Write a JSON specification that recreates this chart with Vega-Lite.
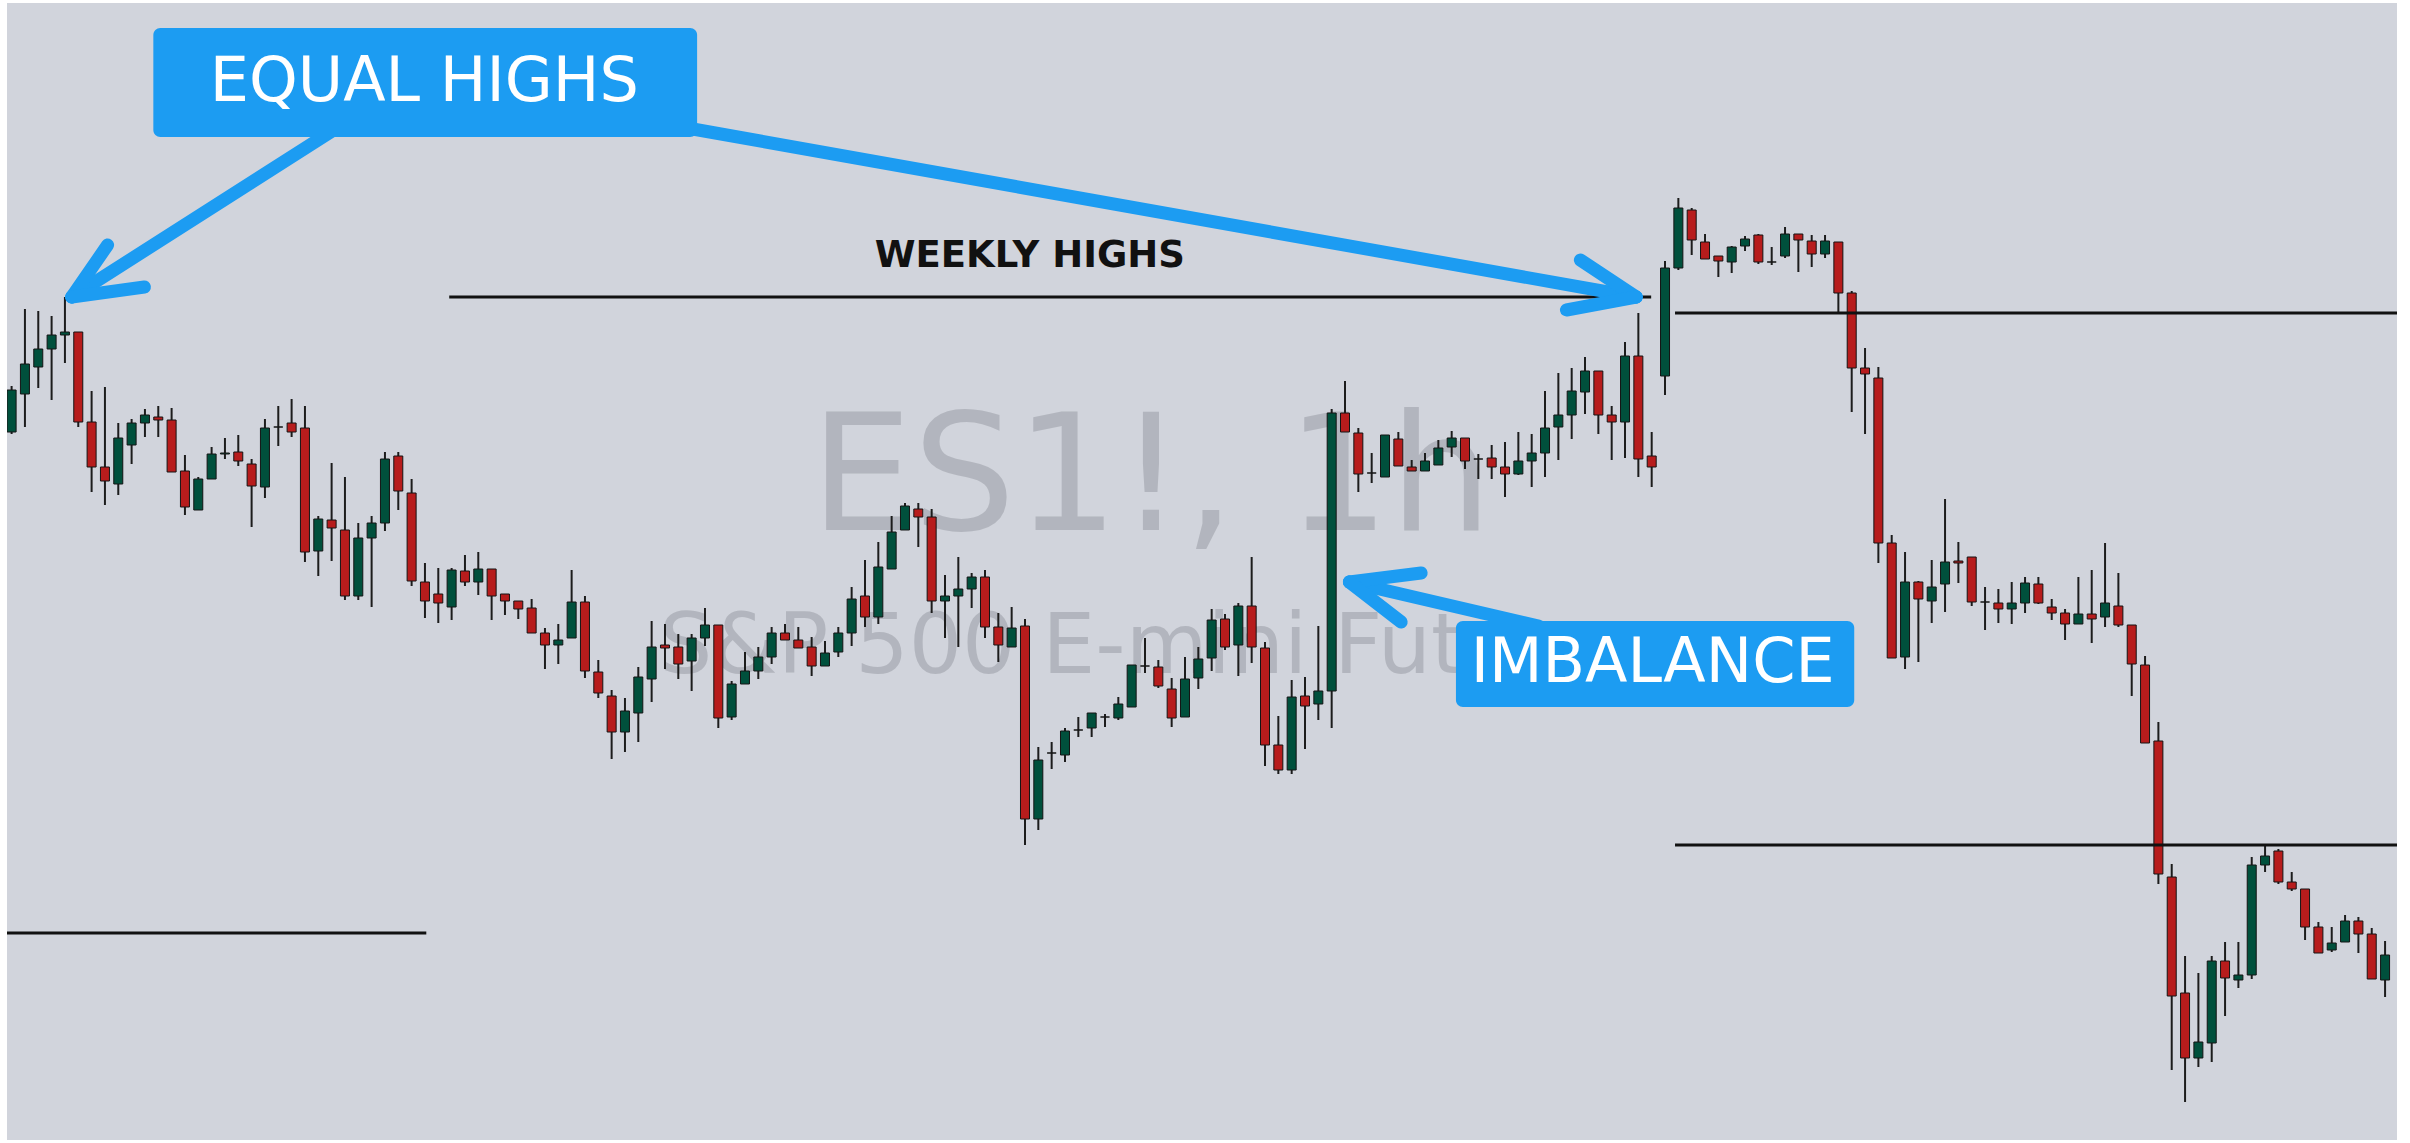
{
  "$schema": "https://vega.github.io/schema/vega-lite/v6.json",
  "width": 2410,
  "height": 1143,
  "autosize": {"type": "fit", "contains": "padding"},
  "padding": {"left": 7, "top": 3, "right": 13, "bottom": 3},
  "background": "white",
  "view": {"stroke": null, "fill": "#d1d4dc"},
  "datasets": {
    "candles": [
      {"i":0,"o":4092,"h":4103.5,"l":4091.5,"c":4102.5},
      {"i":1,"o":4101.5,"h":4122.75,"l":4093.25,"c":4109},
      {"i":2,"o":4108.25,"h":4122.25,"l":4103,"c":4112.75},
      {"i":3,"o":4112.75,"h":4121,"l":4100,"c":4116.25},
      {"i":4,"o":4116.25,"h":4125.75,"l":4109.25,"c":4117},
      {"i":5,"o":4117,"h":4117,"l":4093.25,"c":4094.5},
      {"i":6,"o":4094.5,"h":4102.25,"l":4077,"c":4083.25},
      {"i":7,"o":4083.25,"h":4103.25,"l":4073.75,"c":4079.75},
      {"i":8,"o":4079,"h":4094.25,"l":4076.25,"c":4090.5},
      {"i":9,"o":4088.75,"h":4095.25,"l":4084,"c":4094.25},
      {"i":10,"o":4094.25,"h":4097.75,"l":4090.75,"c":4096.25},
      {"i":11,"o":4095.75,"h":4098.5,"l":4090.75,"c":4095},
      {"i":12,"o":4095,"h":4098,"l":4082,"c":4082},
      {"i":13,"o":4082.25,"h":4086.25,"l":4071.25,"c":4073.25},
      {"i":14,"o":4072.5,"h":4080.75,"l":4072.5,"c":4080.25},
      {"i":15,"o":4080.25,"h":4088.25,"l":4080.25,"c":4086.5},
      {"i":16,"o":4086.5,"h":4090.5,"l":4085.25,"c":4086.75},
      {"i":17,"o":4087,"h":4091.25,"l":4083.5,"c":4084.75},
      {"i":18,"o":4084,"h":4085.25,"l":4068.25,"c":4078.5},
      {"i":19,"o":4078.25,"h":4095.25,"l":4075.5,"c":4093},
      {"i":20,"o":4093.25,"h":4098.5,"l":4088.5,"c":4093.25},
      {"i":21,"o":4094.25,"h":4100.25,"l":4090.75,"c":4092},
      {"i":22,"o":4093,"h":4098.5,"l":4059.5,"c":4062},
      {"i":23,"o":4062.25,"h":4071,"l":4056,"c":4070.25},
      {"i":24,"o":4070,"h":4084.25,"l":4059.75,"c":4068},
      {"i":25,"o":4067.5,"h":4080.75,"l":4050,"c":4051},
      {"i":26,"o":4051,"h":4069.25,"l":4050,"c":4065.5},
      {"i":27,"o":4065.5,"h":4071,"l":4048.25,"c":4069.25},
      {"i":28,"o":4069.25,"h":4087,"l":4067.25,"c":4085.25},
      {"i":29,"o":4086,"h":4087,"l":4072.5,"c":4077.25},
      {"i":30,"o":4076.75,"h":4080.25,"l":4053.5,"c":4054.75},
      {"i":31,"o":4054.5,"h":4059.25,"l":4045.5,"c":4049.75},
      {"i":32,"o":4051.5,"h":4058,"l":4044.25,"c":4049.25},
      {"i":33,"o":4048.25,"h":4058,"l":4045,"c":4057.5},
      {"i":34,"o":4057.25,"h":4061.25,"l":4053.5,"c":4054.5},
      {"i":35,"o":4054.5,"h":4062,"l":4051.25,"c":4057.75},
      {"i":36,"o":4057.75,"h":4057.75,"l":4045,"c":4051},
      {"i":37,"o":4051.5,"h":4051.5,"l":4046.25,"c":4049.75},
      {"i":38,"o":4049.75,"h":4049.75,"l":4045.25,"c":4047.75},
      {"i":39,"o":4048,"h":4050.25,"l":4041.75,"c":4041.75},
      {"i":40,"o":4041.75,"h":4043,"l":4032.75,"c":4038.75},
      {"i":41,"o":4038.75,"h":4044,"l":4034,"c":4040},
      {"i":42,"o":4040.5,"h":4057.5,"l":4040.5,"c":4049.5},
      {"i":43,"o":4049.5,"h":4051,"l":4030.5,"c":4032.25},
      {"i":44,"o":4032,"h":4035,"l":4025.5,"c":4026.75},
      {"i":45,"o":4026,"h":4027.5,"l":4010.25,"c":4017},
      {"i":46,"o":4017,"h":4025.5,"l":4012,"c":4022.25},
      {"i":47,"o":4021.75,"h":4033.25,"l":4014.5,"c":4030.75},
      {"i":48,"o":4030.25,"h":4044.75,"l":4024.5,"c":4038.25},
      {"i":49,"o":4038.75,"h":4044,"l":4032.75,"c":4038},
      {"i":50,"o":4038.25,"h":4041.5,"l":4030.25,"c":4034},
      {"i":51,"o":4034.75,"h":4041.5,"l":4027.25,"c":4040.5},
      {"i":52,"o":4040.5,"h":4048,"l":4038.5,"c":4043.75},
      {"i":53,"o":4043.75,"h":4043.75,"l":4018,"c":4020.5},
      {"i":54,"o":4020.75,"h":4029.75,"l":4020,"c":4029},
      {"i":55,"o":4029,"h":4037,"l":4029,"c":4032.25},
      {"i":56,"o":4032.25,"h":4038.25,"l":4030.25,"c":4035.75},
      {"i":57,"o":4035.75,"h":4043.25,"l":4034,"c":4041.75},
      {"i":58,"o":4041.75,"h":4044,"l":4040,"c":4040},
      {"i":59,"o":4040,"h":4043.25,"l":4038,"c":4038},
      {"i":60,"o":4038.25,"h":4040.75,"l":4031,"c":4033.5},
      {"i":61,"o":4033.5,"h":4039.75,"l":4033.5,"c":4036.75},
      {"i":62,"o":4037,"h":4043.25,"l":4035.75,"c":4041.75},
      {"i":63,"o":4041.75,"h":4053.25,"l":4038.5,"c":4050.25},
      {"i":64,"o":4051,"h":4060,"l":4043.25,"c":4045.75},
      {"i":65,"o":4045.75,"h":4064.5,"l":4044,"c":4058.25},
      {"i":66,"o":4057.75,"h":4071,"l":4057.75,"c":4067},
      {"i":67,"o":4067.5,"h":4074.25,"l":4067.5,"c":4073.5},
      {"i":68,"o":4072.75,"h":4074.25,"l":4063.25,"c":4070.75},
      {"i":69,"o":4070.75,"h":4072.75,"l":4046.75,"c":4049.75},
      {"i":70,"o":4049.75,"h":4056.25,"l":4040.5,"c":4051},
      {"i":71,"o":4051,"h":4060.75,"l":4038.25,"c":4052.75},
      {"i":72,"o":4052.75,"h":4056.75,"l":4048,"c":4055.75},
      {"i":73,"o":4055.75,"h":4057.5,"l":4040.5,"c":4043.25},
      {"i":74,"o":4043.25,"h":4046.75,"l":4034.5,"c":4038.75},
      {"i":75,"o":4038.25,"h":4048.25,"l":4038.25,"c":4043},
      {"i":76,"o":4043.5,"h":4045.25,"l":3988.75,"c":3995.25},
      {"i":77,"o":3995.25,"h":4013.25,"l":3992.5,"c":4010},
      {"i":78,"o":4011.75,"h":4014.5,"l":4007.75,"c":4011.75},
      {"i":79,"o":4011.25,"h":4018,"l":4009.5,"c":4017.25},
      {"i":80,"o":4017.5,"h":4020.75,"l":4015.75,"c":4017.5},
      {"i":81,"o":4018,"h":4021.75,"l":4015.75,"c":4021.75},
      {"i":82,"o":4020.75,"h":4021.5,"l":4018.25,"c":4020.75},
      {"i":83,"o":4020.5,"h":4025.75,"l":4020,"c":4024},
      {"i":84,"o":4023.25,"h":4033.75,"l":4023.25,"c":4033.75},
      {"i":85,"o":4033.5,"h":4040.5,"l":4031.75,"c":4033.5},
      {"i":86,"o":4033.25,"h":4035,"l":4028,"c":4028.5},
      {"i":87,"o":4027.75,"h":4030.5,"l":4018.25,"c":4020.5},
      {"i":88,"o":4020.75,"h":4035.75,"l":4020.75,"c":4030.25},
      {"i":89,"o":4030.5,"h":4038.25,"l":4027.75,"c":4035.25},
      {"i":90,"o":4035.5,"h":4047.75,"l":4032.25,"c":4045},
      {"i":91,"o":4045.25,"h":4046.5,"l":4037.5,"c":4038.25},
      {"i":92,"o":4038.75,"h":4049.25,"l":4031,"c":4048.5},
      {"i":93,"o":4048.5,"h":4060.75,"l":4034.25,"c":4038.25},
      {"i":94,"o":4038,"h":4039.5,"l":4008.5,"c":4013.75},
      {"i":95,"o":4013.75,"h":4021,"l":4006.5,"c":4007.5},
      {"i":96,"o":4007.5,"h":4030,"l":4006.5,"c":4025.75},
      {"i":97,"o":4026,"h":4030.75,"l":4012.75,"c":4023.5},
      {"i":98,"o":4024,"h":4043.5,"l":4020,"c":4027.25},
      {"i":99,"o":4027.25,"h":4097.75,"l":4018,"c":4096.75},
      {"i":100,"o":4096.75,"h":4104.75,"l":4092,"c":4092},
      {"i":101,"o":4091.75,"h":4093,"l":4077,"c":4081.5},
      {"i":102,"o":4081.75,"h":4086.75,"l":4079.25,"c":4081.75},
      {"i":103,"o":4080.75,"h":4091.25,"l":4080.75,"c":4091.25},
      {"i":104,"o":4090.25,"h":4092,"l":4083.5,"c":4083.5},
      {"i":105,"o":4083.25,"h":4085,"l":4082.25,"c":4082.25},
      {"i":106,"o":4082.25,"h":4086.75,"l":4082.25,"c":4084.75},
      {"i":107,"o":4083.75,"h":4090,"l":4083.75,"c":4088},
      {"i":108,"o":4088.25,"h":4092.25,"l":4085.75,"c":4090.5},
      {"i":109,"o":4090.5,"h":4090.5,"l":4082.75,"c":4084.75},
      {"i":110,"o":4085.25,"h":4086.5,"l":4080.25,"c":4085.25},
      {"i":111,"o":4085.5,"h":4088.75,"l":4080.25,"c":4083.25},
      {"i":112,"o":4083.25,"h":4089.5,"l":4075.75,"c":4081.5},
      {"i":113,"o":4081.5,"h":4092,"l":4081.25,"c":4084.75},
      {"i":114,"o":4084.75,"h":4091.5,"l":4078.25,"c":4086.75},
      {"i":115,"o":4086.75,"h":4102.25,"l":4080.75,"c":4093},
      {"i":116,"o":4093.25,"h":4106.75,"l":4085,"c":4096.25},
      {"i":117,"o":4096.25,"h":4108,"l":4090.25,"c":4102.25},
      {"i":118,"o":4102,"h":4110.75,"l":4096.5,"c":4107.25},
      {"i":119,"o":4107.25,"h":4107.25,"l":4091.5,"c":4096.25},
      {"i":120,"o":4096.25,"h":4098.5,"l":4085,"c":4094.5},
      {"i":121,"o":4094.5,"h":4114.5,"l":4085.5,"c":4111},
      {"i":122,"o":4111,"h":4121.75,"l":4080.75,"c":4085.25},
      {"i":123,"o":4086,"h":4092,"l":4078.25,"c":4083.25},
      {"i":124,"o":4106,"h":4134.75,"l":4101.25,"c":4133},
      {"i":125,"o":4133,"h":4150.5,"l":4132.5,"c":4148},
      {"i":126,"o":4147.5,"h":4148,"l":4136.25,"c":4140},
      {"i":127,"o":4139.5,"h":4141.5,"l":4135.25,"c":4135.25},
      {"i":128,"o":4136,"h":4136,"l":4130.75,"c":4134.75},
      {"i":129,"o":4134.5,"h":4138.5,"l":4131.75,"c":4138.25},
      {"i":130,"o":4138.5,"h":4141,"l":4137.25,"c":4140.25},
      {"i":131,"o":4141.25,"h":4141.5,"l":4134,"c":4134.5},
      {"i":132,"o":4134.5,"h":4138.25,"l":4133.75,"c":4134.5},
      {"i":133,"o":4136,"h":4143.25,"l":4135.5,"c":4141.5},
      {"i":134,"o":4141.5,"h":4141.5,"l":4132,"c":4140},
      {"i":135,"o":4139.75,"h":4141.25,"l":4133.25,"c":4136.5},
      {"i":136,"o":4136.5,"h":4141.25,"l":4135.5,"c":4139.75},
      {"i":137,"o":4139.5,"h":4139.5,"l":4122,"c":4126.75},
      {"i":138,"o":4126.75,"h":4127.25,"l":4097,"c":4108},
      {"i":139,"o":4108,"h":4113,"l":4091.5,"c":4106.5},
      {"i":140,"o":4105.5,"h":4108.25,"l":4059.25,"c":4064.25},
      {"i":141,"o":4064.25,"h":4066.25,"l":4035.5,"c":4035.5},
      {"i":142,"o":4035.75,"h":4062,"l":4032.75,"c":4054.5},
      {"i":143,"o":4054.5,"h":4054.75,"l":4034.5,"c":4050.25},
      {"i":144,"o":4049.75,"h":4060,"l":4044.25,"c":4053.25},
      {"i":145,"o":4054,"h":4075.25,"l":4047,"c":4059.5},
      {"i":146,"o":4059.75,"h":4064.5,"l":4054.25,"c":4059.25},
      {"i":147,"o":4060.75,"h":4060.75,"l":4048.5,"c":4049.5},
      {"i":148,"o":4049.5,"h":4053.25,"l":4042.5,"c":4049.5},
      {"i":149,"o":4049.25,"h":4052.75,"l":4044.25,"c":4047.75},
      {"i":150,"o":4047.75,"h":4054.5,"l":4044,"c":4049.25},
      {"i":151,"o":4049.25,"h":4055.75,"l":4046.75,"c":4054.25},
      {"i":152,"o":4054,"h":4055.75,"l":4049,"c":4049.25},
      {"i":153,"o":4048.25,"h":4050.25,"l":4045,"c":4046.75},
      {"i":154,"o":4046.75,"h":4047.75,"l":4040,"c":4044},
      {"i":155,"o":4044,"h":4055.75,"l":4044,"c":4046.5},
      {"i":156,"o":4046.5,"h":4057.5,"l":4039.25,"c":4045.25},
      {"i":157,"o":4045.75,"h":4064.25,"l":4043.25,"c":4049.25},
      {"i":158,"o":4048.5,"h":4056.75,"l":4043.25,"c":4043.75},
      {"i":159,"o":4043.75,"h":4043.75,"l":4026,"c":4034},
      {"i":160,"o":4033.75,"h":4036,"l":4014.25,"c":4014.25},
      {"i":161,"o":4014.75,"h":4019.5,"l":3979,"c":3981.5},
      {"i":162,"o":3980.75,"h":3984,"l":3932.5,"c":3951},
      {"i":163,"o":3951.75,"h":3961,"l":3924.5,"c":3935.5},
      {"i":164,"o":3935.5,"h":3956.75,"l":3933.25,"c":3939.5},
      {"i":165,"o":3939.25,"h":3961,"l":3934.5,"c":3959.75},
      {"i":166,"o":3959.75,"h":3964.5,"l":3946,"c":3955.5},
      {"i":167,"o":3955,"h":3964.5,"l":3953,"c":3956.25},
      {"i":168,"o":3956.25,"h":3985.75,"l":3955.25,"c":3983.75},
      {"i":169,"o":3983.75,"h":3989,"l":3982,"c":3986},
      {"i":170,"o":3987.25,"h":3987.75,"l":3979,"c":3979.5},
      {"i":171,"o":3979.5,"h":3982,"l":3977.25,"c":3977.75},
      {"i":172,"o":3977.75,"h":3977.75,"l":3965,"c":3968.25},
      {"i":173,"o":3968.25,"h":3969.5,"l":3961.75,"c":3961.75},
      {"i":174,"o":3962.5,"h":3968.25,"l":3962,"c":3964.25},
      {"i":175,"o":3964.5,"h":3971.25,"l":3964.5,"c":3969.75},
      {"i":176,"o":3969.75,"h":3970.75,"l":3961.75,"c":3966.5},
      {"i":177,"o":3966.5,"h":3968,"l":3955.25,"c":3955.25},
      {"i":178,"o":3955,"h":3964.75,"l":3950.75,"c":3961.25}
    ],
    "levels": [
      {"from": 32.82, "to": 122.96, "price": 4125.75},
      {"from": 124.75, "to": 180, "price": 4121.75},
      {"from": 124.75, "to": 180, "price": 3988.75},
      {"from": -2, "to": 31.1, "price": 3966.75}
    ],
    "arrows": [
      {"x": 24.15, "y": 4167.5, "x2": 4.51, "y2": 4125.75},
      {"x": 4.51, "y": 4125.75, "x2": 7.2, "y2": 4138.75},
      {"x": 4.51, "y": 4125.75, "x2": 9.96, "y2": 4128.25},
      {"x": 50.66, "y": 4168, "x2": 121.84, "y2": 4125.75},
      {"x": 121.84, "y": 4125.75, "x2": 117.65, "y2": 4135},
      {"x": 121.84, "y": 4125.75, "x2": 116.61, "y2": 4122.5},
      {"x": 114.52, "y": 4043.5, "x2": 100.33, "y2": 4054.5},
      {"x": 100.33, "y": 4054.5, "x2": 105.71, "y2": 4056.75},
      {"x": 100.33, "y": 4054.5, "x2": 104.21, "y2": 4044.5}
    ],
    "boxes": [
      {"x": 10.63, "x2": 51.41, "y": 4193, "y2": 4165.75},
      {"x": 108.32, "x2": 138.19, "y": 4044.75, "y2": 4023.25}
    ],
    "boxLabels": [
      {"label": "EQUAL HIGHS", "x": 30.95, "y": 4174.75},
      {"label": "IMBALANCE", "x": 123.07, "y": 4029.5}
    ],
    "levelLabels": [
      {"label": "WEEKLY HIGHS", "x": 76.36, "y": 4133.25}
    ],
    "symbol": [
      {"label": "ES1!, 1h", "x": 85.47, "y": 4067.5}
    ],
    "description": [
      {"label": "S&P 500 E-mini Futures", "x": 85.54, "y": 4031.75}
    ]
  },
  "layer": [
    {
      "data": {"name": "symbol"},
      "mark": {"type": "text", "font": "DejaVu Sans", "fontSize": 162, "align": "center", "baseline": "alphabetic", "fill": "#9598a1", "opacity": 0.5},
      "encoding": {
        "x": {"field": "x", "type": "quantitative", "scale": {"domain": [0.03, 178.52], "nice": false, "zero": false}, "axis": null},
        "y": {"field": "y", "type": "quantitative", "scale": {"domain": [3915, 4199.25], "nice": false, "zero": false}, "axis": null},
        "text": {"field": "label"}
      }
    },
    {
      "data": {"name": "description"},
      "mark": {"type": "text", "font": "DejaVu Sans", "fontSize": 84, "align": "center", "baseline": "alphabetic", "fill": "#9598a1", "opacity": 0.5},
      "encoding": {
        "x": {"field": "x", "type": "quantitative", "scale": {"domain": [0.03, 178.52], "nice": false, "zero": false}, "axis": null},
        "y": {"field": "y", "type": "quantitative", "scale": {"domain": [3915, 4199.25], "nice": false, "zero": false}, "axis": null},
        "text": {"field": "label"}
      }
    },
    {
      "data": {"name": "candles"},
      "mark": {"type": "rule", "color": "#1c1c1c", "strokeWidth": 2, "clip": true},
      "encoding": {
        "x": {"field": "i", "type": "quantitative", "scale": {"domain": [0.03, 178.52], "nice": false, "zero": false}, "axis": null},
        "y": {"field": "l", "type": "quantitative", "scale": {"domain": [3915, 4199.25], "nice": false, "zero": false}, "axis": null},
        "y2": {"field": "h"}
      }
    },
    {
      "data": {"name": "candles"},
      "mark": {"type": "bar", "size": 9, "stroke": "#141414", "strokeWidth": 1, "clip": true},
      "encoding": {
        "x": {"field": "i", "type": "quantitative", "scale": {"domain": [0.03, 178.52], "nice": false, "zero": false}, "axis": null},
        "y": {"field": "o", "type": "quantitative", "scale": {"domain": [3915, 4199.25], "nice": false, "zero": false}, "axis": null},
        "y2": {"field": "c"},
        "color": {"condition": {"test": "datum.c >= datum.o", "value": "#00503c"}, "value": "#b71c1c"}
      }
    },
    {
      "data": {"name": "levels"},
      "mark": {"type": "rule", "color": "#111111", "strokeWidth": 3, "clip": true},
      "encoding": {
        "x": {"field": "from", "type": "quantitative", "scale": {"domain": [0.03, 178.52], "nice": false, "zero": false}, "axis": null},
        "x2": {"field": "to"},
        "y": {"field": "price", "type": "quantitative", "scale": {"domain": [3915, 4199.25], "nice": false, "zero": false}, "axis": null}
      }
    },
    {
      "data": {"name": "arrows"},
      "mark": {"type": "rule", "color": "#1c9cf2", "strokeWidth": 13, "strokeCap": "round"},
      "encoding": {
        "x": {"field": "x", "type": "quantitative", "scale": {"domain": [0.03, 178.52], "nice": false, "zero": false}, "axis": null},
        "y": {"field": "y", "type": "quantitative", "scale": {"domain": [3915, 4199.25], "nice": false, "zero": false}, "axis": null},
        "x2": {"field": "x2"},
        "y2": {"field": "y2"}
      }
    },
    {
      "data": {"name": "boxes"},
      "mark": {"type": "rect", "color": "#1c9cf2", "cornerRadius": 7},
      "encoding": {
        "x": {"field": "x", "type": "quantitative", "scale": {"domain": [0.03, 178.52], "nice": false, "zero": false}, "axis": null},
        "x2": {"field": "x2"},
        "y": {"field": "y", "type": "quantitative", "scale": {"domain": [3915, 4199.25], "nice": false, "zero": false}, "axis": null},
        "y2": {"field": "y2"}
      }
    },
    {
      "data": {"name": "boxLabels"},
      "mark": {"type": "text", "font": "DejaVu Sans", "fontSize": 62, "align": "center", "baseline": "alphabetic", "fill": "white"},
      "encoding": {
        "x": {"field": "x", "type": "quantitative", "scale": {"domain": [0.03, 178.52], "nice": false, "zero": false}, "axis": null},
        "y": {"field": "y", "type": "quantitative", "scale": {"domain": [3915, 4199.25], "nice": false, "zero": false}, "axis": null},
        "text": {"field": "label"}
      }
    },
    {
      "data": {"name": "levelLabels"},
      "mark": {"type": "text", "font": "DejaVu Sans", "fontWeight": "bold", "fontSize": 37, "align": "center", "baseline": "alphabetic", "fill": "#111111"},
      "encoding": {
        "x": {"field": "x", "type": "quantitative", "scale": {"domain": [0.03, 178.52], "nice": false, "zero": false}, "axis": null},
        "y": {"field": "y", "type": "quantitative", "scale": {"domain": [3915, 4199.25], "nice": false, "zero": false}, "axis": null},
        "text": {"field": "label"}
      }
    }
  ]
}
